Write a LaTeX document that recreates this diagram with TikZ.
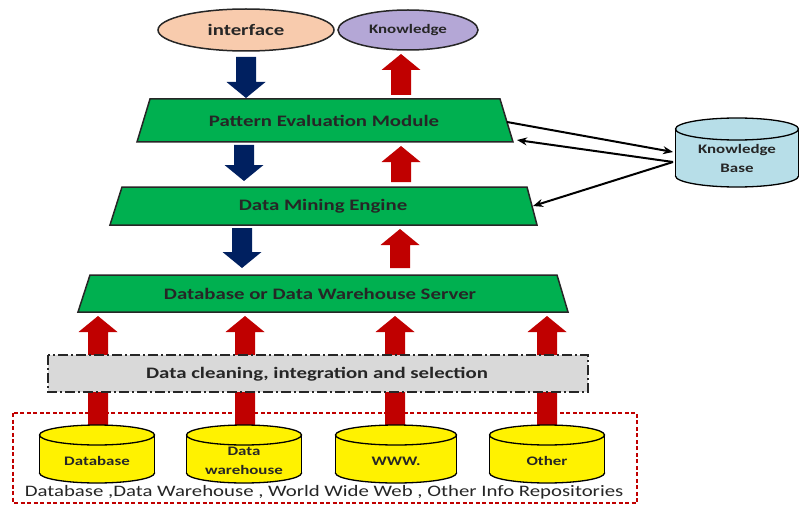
\documentclass[tikz,border=0pt]{standalone}
\usepackage{fontspec}
\setmainfont{Carlito}[FakeStretch=1.3]
\usetikzlibrary{arrows.meta}
\definecolor{lgreen}{HTML}{00B050}
\definecolor{navy}{HTML}{002060}
\definecolor{dred}{HTML}{C00000}
\definecolor{lgray}{HTML}{D9D9D9}
\definecolor{kbblue}{HTML}{B7DEE8}
\definecolor{peach}{HTML}{F8CBAD}
\definecolor{lav}{HTML}{B4A7D6}
\newcommand\blkarrow[4]{%
  \pgfmathsetmacro\hy{#4+16*sign(#3-#4)}%
  \fill[#1] ({#2-10},#3) -- ({#2-10},\hy) -- ({#2-19.5},\hy) -- (#2,#4) -- ({#2+19.5},\hy) -- ({#2+10},\hy) -- ({#2+10},#3) -- cycle;}
\newcommand\mycyl[6]{%
  \filldraw[fill=#6, line width=1.3pt] (#1,{#2+#4-#5}) ellipse[x radius=#3/2, y radius=#5];
  \fill[#6] ({#1-#3/2},{#2+#5}) rectangle ({#1+#3/2},{#2+#4-#5});
  \draw[line width=1.3pt] ({#1-#3/2},{#2+#5}) -- ({#1-#3/2},{#2+#4-#5}) ({#1+#3/2},{#2+#5}) -- ({#1+#3/2},{#2+#4-#5});
  \filldraw[fill=#6, line width=1.3pt] (#1,{#2+#5}) ellipse[x radius=#3/2, y radius=#5];}
\begin{document}
\begin{tikzpicture}[x=1pt,y=-1pt,
  lbl/.style={font=\bfseries\fontsize{16}{18}\selectfont, text=black!85, inner sep=0pt},
  cyltext/.style={font=\bfseries\fontsize{13}{17}\selectfont, text=black!85, align=center, inner sep=0pt},
  trap/.style={fill=lgreen, draw=black!85, line width=1.5pt},
  kbarrow/.style={line width=2pt, draw=black, -{Stealth[length=10pt,width=8pt]}}]
\useasboundingbox (0,0) rectangle (799,505);
\fill[white] (0,0) rectangle (799,505);

% top ellipses
\filldraw[fill=peach, draw=black!85, line width=1.5pt] (246,30) ellipse[x radius=88, y radius=21];
\node[lbl] (iface) at (246,30) {interface};
\filldraw[fill=lav, draw=black!85, line width=1.5pt] (408,30) ellipse[x radius=70, y radius=20];
\node[lbl, font=\bfseries\fontsize{13}{15}\selectfont] (know) at (408,30) {Knowledge};

% trapezoids
\draw[trap] (150,99) -- (500,99) -- (513,142) -- (137,142) -- cycle;
\node[lbl] (pem) at (324,121) {Pattern Evaluation Module};
\draw[trap] (122,187) -- (527,187) -- (537,225) -- (110,225) -- cycle;
\node[lbl] (dme) at (323,206) {Data Mining Engine};
\draw[trap] (90,275) -- (557,275) -- (568,312) -- (78,312) -- cycle;
\node[lbl] (dbs) at (320,294) {Database or Data Warehouse Server};

% block arrows between layers
\blkarrow{navy}{246}{57}{98}
\blkarrow{navy}{244}{145}{181}
\blkarrow{navy}{242}{228}{268}
\blkarrow{dred}{401}{95}{54}
\blkarrow{dred}{401}{182}{146}
\blkarrow{dred}{400}{268}{229}
\foreach \xx in {98,245,395,547}{\blkarrow{dred}{\xx}{426}{316}}

% cleaning box
\filldraw[fill=lgray, draw=black!85, line width=1.3pt, dash pattern=on 10pt off 3pt on 2pt off 3pt] (48,355) rectangle (588,392);
\node[lbl] (clean) at (317,374) {Data cleaning, integration and selection};

% sources box
\draw[dred, line width=1.3pt, dash pattern=on 4pt off 2.5pt] (13,413) rectangle (637,503);
\mycyl{97}{425}{115}{58}{10}{yellow}
\mycyl{244}{425}{115}{58}{10}{yellow}
\mycyl{396}{425}{121}{58}{10}{yellow}
\mycyl{547}{425}{115}{58}{10}{yellow}
\node[cyltext] (c1) at (97,461) {Database};
\node[cyltext] (c2) at (244,461) {Data\\[2pt]warehouse};
\node[cyltext] (c3) at (396,461) {WWW.};
\node[cyltext] (c4) at (547,461) {Other};
\node[inner sep=0pt, font=\fontsize{16}{18}\selectfont, text=black!85] (src) at (324,492) {Database ,Data Warehouse , World Wide Web , Other Info Repositories};

% knowledge base
\mycyl{737}{118}{123}{69}{11}{kbblue}
\node[cyltext] (kb) at (737,158) {Knowledge\\[2pt]Base};
\coordinate (kbA) at (673,152);
\coordinate (kbB) at (673,162);
\coordinate (pemR) at (507,122);
\coordinate (pemBR) at (517,140);
\coordinate (dmeR) at (533,206);
\draw[kbarrow] (pemR) -- (kbA);
\draw[kbarrow] (kbB) -- (pemBR);
\draw[kbarrow] (kbB) -- (dmeR);
\end{tikzpicture}
\end{document}
